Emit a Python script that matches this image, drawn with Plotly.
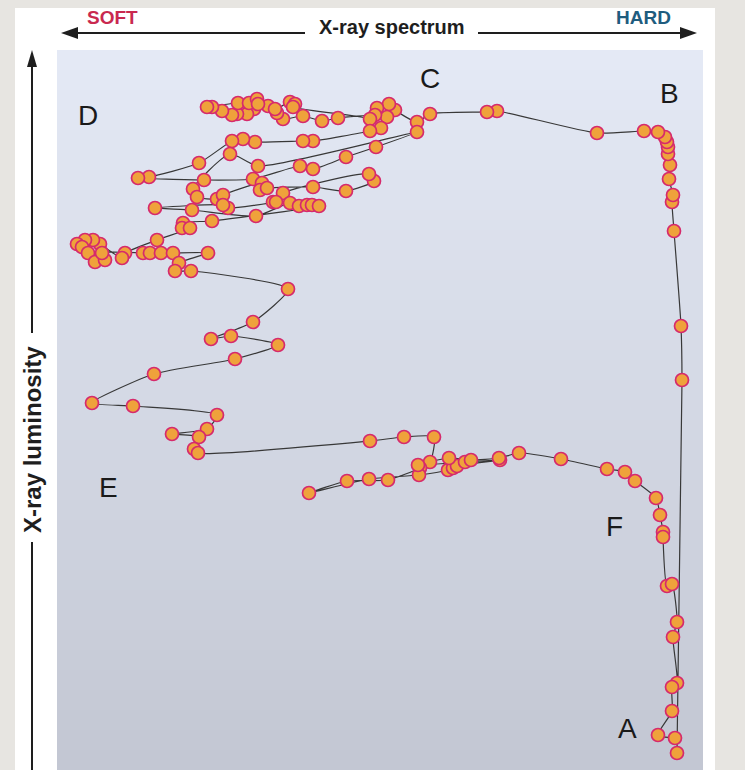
import plotly.graph_objects as go

# Hardness (x) and luminosity (y) along the outburst track, in arbitrary units,
# listed in time order: A -> B -> C -> D -> E -> F -> A
hardness = [
    620, 625, 624, 617, 615, 616, 612, 613, 611, 611, 610, 608, 601, 587, 540, 440, 430,
    373, 360, 338, 332, 320, 330, 318, 281, 265, 246, 226, 220, 211, 197, 190, 180, 175, 165, 155, 150,
    181, 192, 200, 201, 218, 233, 238, 236, 313, 324, 313,
    256, 246, 198, 186, 175, 142, 92, 81,
    147, 196, 243, 256, 289, 319, 360,
    201, 173, 136, 140, 160, 166, 205, 203, 210, 256, 289, 317, 312,
    226, 216, 219, 171, 166, 98, 135, 199, 233, 242, 250, 255, 262,
    155, 126, 125, 133, 100, 68, 65, 43, 36, 28, 20, 25, 31, 38, 48, 45, 86, 93, 104, 116, 151, 122, 118, 134,
    231, 196, 154, 174, 221, 178, 97, 35, 76, 160, 150, 115, 142, 137, 141,
    313, 347, 377, 373, 363, 331, 290, 252, 312, 362, 391, 396, 400, 443, 408, 361, 392, 414, 442, 462,
    504, 550, 568, 578, 599, 603, 606, 606, 610, 615, 620, 616, 620, 615, 615, 601, 618,
]
luminosity = [
    17, 390, 444, 539, 568, 575, 591, 605, 616, 623, 628, 633, 638, 639, 637, 659, 658,
    656, 648, 660, 666, 662, 653, 655, 652, 649, 654, 651, 657, 664, 661, 656, 656, 655, 659, 663, 663,
    667, 667, 671, 666, 661, 668, 666, 663, 651, 642, 639,
    629, 629, 628, 631, 629, 607, 593, 592,
    590, 591, 604, 601, 613, 623, 638,
    604, 616, 581, 573, 571, 575, 587, 580, 582, 583, 579, 589, 596,
    577, 568, 568, 562, 565, 562, 560, 554, 567, 564, 565, 565, 564,
    549, 547, 542, 542, 530, 517, 512, 526, 530, 530, 526, 523, 517, 508, 510, 517, 517, 517, 517, 517, 517, 507, 499, 499,
    481, 448, 431, 434, 425, 411, 396, 367, 364, 355, 341, 336, 333, 321, 317,
    329, 333, 333, 308, 302, 290, 289, 277, 291, 295, 300, 302, 304, 310, 308, 305, 312, 310, 312, 317,
    311, 301, 298, 289, 272, 255, 238, 233, 184, 186, 148, 133, 87, 83, 59, 35, 32,
]

# State labels placed on the track
state_labels = ["A", "B", "C", "D", "E", "F"]
label_x = [570, 612, 373, 31, 51, 557]
label_y = [42, 677, 692, 655, 283, 244]

W, H = 745, 770
ML, MR, MT, MB = 57, 42, 50, 0
PW, PH = W - ML - MR, H - MT - MB


def fx(p):
    """figure pixel column -> paper x"""
    return (p - ML) / PW


def fy(p):
    """figure pixel row -> paper y"""
    return (H - MB - p) / PH


fig = go.Figure()

fig.add_trace(go.Scatter(
    x=hardness, y=luminosity,
    mode="lines+markers",
    line=dict(color="#383838", width=1.2, shape="spline", smoothing=0.6),
    marker=dict(size=13, color="#efa23b", line=dict(color="#d62a6c", width=1.7)),
    hoverinfo="skip", showlegend=False,
))

shapes = []
# outer backdrop and white card
shapes.append(dict(type="rect", xref="paper", yref="paper", layer="below",
                   x0=fx(0), x1=fx(W), y0=fy(H), y1=fy(0),
                   fillcolor="#e7e5e1", line=dict(width=0)))
shapes.append(dict(type="rect", xref="paper", yref="paper", layer="below",
                   x0=fx(15), x1=fx(715), y0=fy(H), y1=fy(8),
                   fillcolor="#ffffff", line=dict(width=0)))

# vertical gradient of the plotting panel
top = (0xe4, 0xe9, 0xf5)
bot = (0xc3, 0xc7, 0xd3)
nb = 72
for i in range(nb):
    t = i / (nb - 1)
    c = tuple(round(top[k] + (bot[k] - top[k]) * t) for k in range(3))
    y0 = 50 + i * (720 / nb)
    shapes.append(dict(type="rect", xref="paper", yref="paper", layer="below",
                       x0=0, x1=1, y0=fy(y0 + 720 / nb + 0.5), y1=fy(y0),
                       fillcolor="rgb(%d,%d,%d)" % c, line=dict(width=0)))

ink = "#1e1e1e"
# horizontal double arrow (spectrum)
ay = 33
for xa, xb in [(74, 305), (478, 684)]:
    shapes.append(dict(type="line", xref="paper", yref="paper",
                       x0=fx(xa), x1=fx(xb), y0=fy(ay), y1=fy(ay),
                       line=dict(color=ink, width=2)))
shapes.append(dict(type="path", xref="paper", yref="paper",
                   path="M %f,%f L %f,%f L %f,%f Z" % (fx(61), fy(ay), fx(78), fy(ay - 6), fx(78), fy(ay + 6)),
                   fillcolor=ink, line=dict(width=0)))
shapes.append(dict(type="path", xref="paper", yref="paper",
                   path="M %f,%f L %f,%f L %f,%f Z" % (fx(697), fy(ay), fx(680), fy(ay - 6), fx(680), fy(ay + 6)),
                   fillcolor=ink, line=dict(width=0)))

# vertical arrow (luminosity)
ax_ = 32
for ya, yb in [(62, 333), (542, 770)]:
    shapes.append(dict(type="line", xref="paper", yref="paper",
                       x0=fx(ax_), x1=fx(ax_), y0=fy(ya), y1=fy(yb),
                       line=dict(color=ink, width=2)))
shapes.append(dict(type="path", xref="paper", yref="paper",
                   path="M %f,%f L %f,%f L %f,%f Z" % (fx(ax_), fy(50), fx(ax_ - 5), fy(67), fx(ax_ + 5), fy(67)),
                   fillcolor=ink, line=dict(width=0)))

annotations = []
head_font = "Liberation Sans Narrow, Arial Narrow, Liberation Sans, Arial"
annotations.append(dict(text="<b>SOFT</b>", xref="paper", yref="paper", x=fx(112), y=fy(18),
                        showarrow=False, xanchor="center", yanchor="middle",
                        font=dict(family=head_font, size=19, color="#c9294f")))
annotations.append(dict(text="<b>HARD</b>", xref="paper", yref="paper", x=fx(643), y=fy(18),
                        showarrow=False, xanchor="center", yanchor="middle",
                        font=dict(family=head_font, size=19, color="#1f5c7e")))
annotations.append(dict(text="<b>X-ray spectrum</b>", xref="paper", yref="paper", x=fx(392), y=fy(27),
                        showarrow=False, xanchor="center", yanchor="middle",
                        font=dict(family="Liberation Sans, Arial", size=20, color=ink)))
annotations.append(dict(text="<b>X-ray luminosity</b>", xref="paper", yref="paper", x=fx(32), y=fy(440),
                        showarrow=False, xanchor="center", yanchor="middle", textangle=-90,
                        font=dict(family="Liberation Sans, Arial", size=24, color=ink)))

for s, lx, ly in zip(state_labels, label_x, label_y):
    annotations.append(dict(text=s, x=lx, y=ly, xref="x", yref="y", showarrow=False,
                            xanchor="center", yanchor="middle",
                            font=dict(family="Liberation Sans, Arial", size=28, color="#1a1a1a")))

fig.update_layout(
    width=W, height=H,
    margin=dict(l=ML, r=MR, t=MT, b=MB),
    paper_bgcolor="#e7e5e1",
    plot_bgcolor="rgba(0,0,0,0)",
    xaxis=dict(range=[0, PW], visible=False, fixedrange=True),
    yaxis=dict(range=[0, PH], visible=False, fixedrange=True),
    shapes=shapes,
    annotations=annotations,
)

fig.write_html("out.html")
